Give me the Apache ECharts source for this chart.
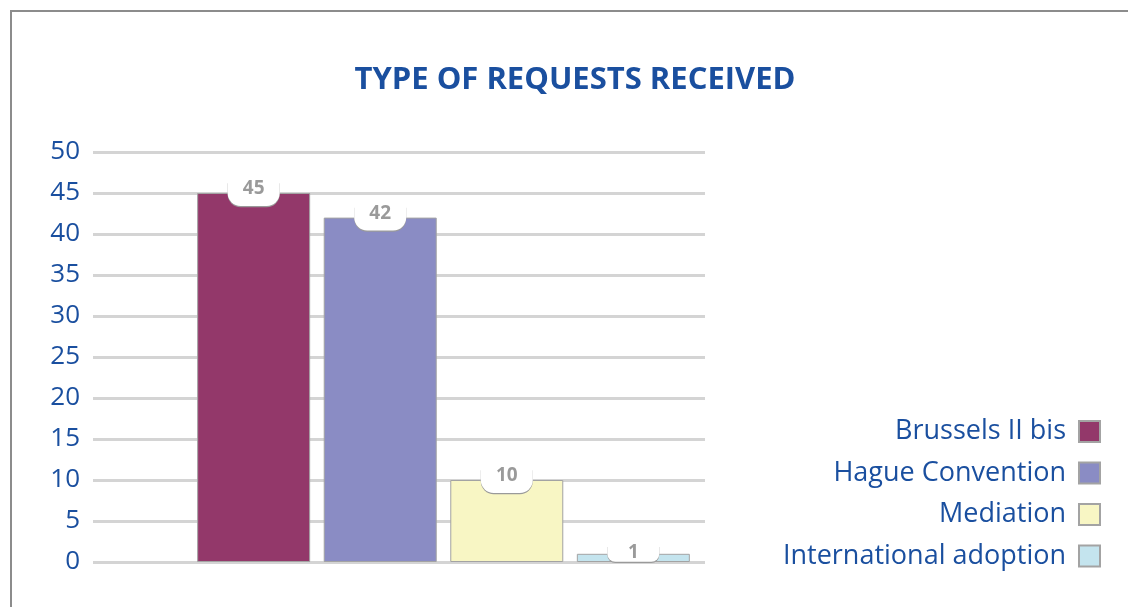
<!DOCTYPE html>
<html><head><meta charset="utf-8">
<script src="https://cdn.jsdelivr.net/npm/echarts@6/dist/echarts.min.js"></script>
<style>html,body{margin:0;padding:0;background:#fff}#c{width:1128px;height:607px}</style>
</head><body><div id="c"></div>
<script>
const seriesNames = ['Brussels II bis', 'Hague Convention', 'Mediation', 'International adoption'];
const seriesValues = [45, 42, 10, 1];
const seriesColors = ['#93386a', '#8a8cc4', '#f8f6c4', '#c4e4ee'];
const yTicks = [0, 5, 10, 15, 20, 25, 30, 35, 40, 45, 50];
const category = ['Requests'];

const blue = '#1a4f9f';
const font = 'Open Sans';

const chart = echarts.init(document.getElementById('c'));
const series = seriesNames.map((name, i) => {
  const small = seriesValues[i] < 3;
  return {
    name: name,
    type: 'bar',
    xAxisIndex: 1, yAxisIndex: 1,
    barWidth: 113,
    barGap: '12%',
    itemStyle: { color: seriesColors[i], borderColor: '#a3a3a3', borderWidth: 1 },
    label: {
      show: true,
      position: 'insideTop',
      distance: 0,
      offset: [0, small ? -8 : -11],
      formatter: '{c}',
      color: '#9a9a9a',
      fontFamily: font,
      fontWeight: 'bold',
      fontSize: 19,
      lineHeight: 14,
      width: 52,
      align: 'center',
      backgroundColor: '#ffffff',
      padding: small ? [0, 0, 2, 0] : [0, 0, 10, 0],
      borderRadius: small ? [0, 0, 8, 8] : [0, 0, 13, 13],
      shadowColor: '#9a9a9a',
      shadowOffsetY: 1.2,
      shadowBlur: 0.5
    },
    data: [seriesValues[i]]
  };
});

chart.setOption({
  animation: false,
  backgroundColor: '#ffffff',
  title: {
    text: 'TYPE OF REQUESTS RECEIVED',
    left: 570, top: 60, textAlign: 'center',
    textStyle: { color: blue, fontFamily: font, fontWeight: 'bold', fontSize: 31 }
  },
  legend: {
    orient: 'vertical',
    right: 22, top: 413,
    align: 'right',
    itemWidth: 21, itemHeight: 21,
    itemGap: 14.5,
    icon: 'rect',
    textStyle: { color: blue, fontFamily: font, fontSize: 27, lineHeight: 21, padding: [0, 8, 0, 0] },
    data: seriesNames
  },
  graphic: [{
    type: 'rect', z: 100,
    shape: { x: 11, y: 11, width: 1300, height: 800 },
    style: { fill: 'none', stroke: '#8c8c8c', lineWidth: 2 }
  }],
  grid: [
    { left: 93, right: 423, top: 152, bottom: 45 },
    { left: 197, right: 438, top: 152, bottom: 45 }
  ],
  xAxis: [
    { type: 'category', gridIndex: 0, data: category, show: false },
    { type: 'category', gridIndex: 1, data: category, show: false }
  ],
  yAxis: [
    {
      type: 'value', gridIndex: 0, min: yTicks[0], max: yTicks[yTicks.length - 1], interval: 5,
      axisLine: { show: false }, axisTick: { show: false },
      axisLabel: { color: blue, fontFamily: font, fontSize: 26, margin: 13 },
      splitLine: { lineStyle: { color: '#d4d4d4', width: 3 } }
    },
    { type: 'value', gridIndex: 1, min: yTicks[0], max: yTicks[yTicks.length - 1], show: false, splitLine: { show: false } }
  ],
  series: series
});
</script></body></html>
